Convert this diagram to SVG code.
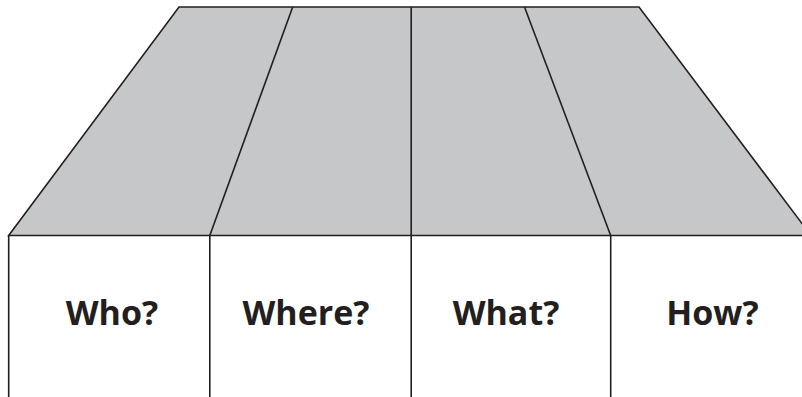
<svg xmlns="http://www.w3.org/2000/svg" width="802" height="397" viewBox="0 0 802 397">
<style>
.ln{stroke:#231f20;stroke-width:1.6;fill:none;stroke-linecap:butt}
.roof{fill:#c6c7c8;stroke:#231f20;stroke-width:1.6;stroke-linejoin:miter}
.lbl{font-family:"Open Sans","Liberation Sans",sans-serif;font-weight:bold;font-size:34px;fill:#231f20;text-anchor:middle}
</style>
<rect width="802" height="397" fill="#ffffff"/>
<g id="roof">
<polygon class="roof" points="179,7 639,7 811,235.5 8.7,235.5"/>
</g>
<g id="connectors">
<line class="ln" x1="292.7" y1="7" x2="209.8" y2="235.5"/>
<line class="ln" x1="411.2" y1="7" x2="411.2" y2="235.5"/>
<line class="ln" x1="524.5" y1="7" x2="610.7" y2="235.5"/>
<line class="ln" x1="8.7" y1="235.5" x2="8.7" y2="397"/>
<line class="ln" x1="209.8" y1="235.5" x2="209.8" y2="397"/>
<line class="ln" x1="411.2" y1="235.5" x2="411.2" y2="397"/>
<line class="ln" x1="610.7" y1="235.5" x2="610.7" y2="397"/>
</g>
<g id="who"><text class="lbl" x="112" y="325">Who?</text></g>
<g id="where"><text class="lbl" x="306" y="325">Where?</text></g>
<g id="what"><text class="lbl" x="506" y="325">What?</text></g>
<g id="how"><text class="lbl" x="712.5" y="325">How?</text></g>
</svg>
